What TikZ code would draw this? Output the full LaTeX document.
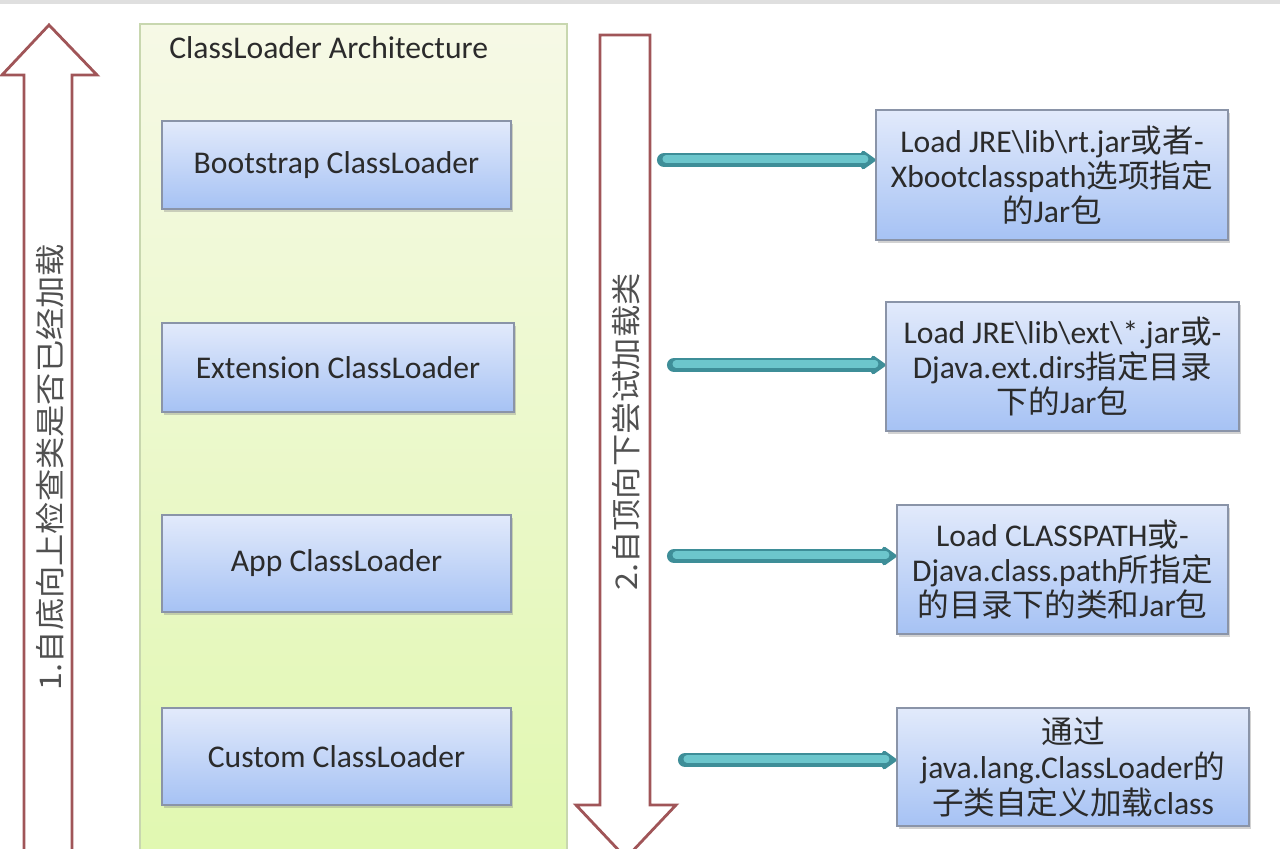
\documentclass[tikz,border=0pt]{standalone}
\usepackage{fontspec}
\setmainfont{Carlito}
\newfontfamily\cjk{Noto Sans CJK SC}
\usetikzlibrary{shadows,arrows.meta,calc}
\definecolor{arrowred}{HTML}{A05558}
\definecolor{txt}{HTML}{2B2B2B}
\definecolor{teal1}{HTML}{6CC6CC}
\definecolor{teal2}{HTML}{3E8E98}
\definecolor{boxline}{HTML}{8A94A8}
\tikzset{
  loader/.style={draw=boxline, line width=0.7pt, top color={rgb,255:red,226;green,234;blue,251}, bottom color={rgb,255:red,166;green,194;blue,244},
    drop shadow={shadow xshift=1pt, shadow yshift=-1.5pt, opacity=0.35}, text=txt, font=\fontsize{18}{20}\selectfont, align=center, inner sep=0pt},
  infobox/.style={loader, font=\fontsize{18}{20}\selectfont},
  bigarrow/.style={draw=arrowred, line width=1.6pt, fill=white, line join=miter},
  vtext/.style={text={rgb,255:red,80;green,80;blue,80}, font=\cjk\fontsize{17}{20}\selectfont, rotate=90, xscale=1.08},
  tealdark/.style={draw=teal2, line width=8pt, line cap=round, -{Triangle[length=9pt,width=12pt,round]}},
  teallight/.style={draw=teal1, line width=4pt, line cap=round, shorten >=6pt},
}
\begin{document}
\begin{tikzpicture}[x=0.02cm,y=-0.02cm]
\useasboundingbox (0,0) rectangle (1280,848);
\fill[white] (0,0) rectangle (1280,848);
\draw[gray!25, line width=2pt] (0,2) -- (1280,2);
% container
\path[draw={rgb,255:red,200;green,215;blue,175}, line width=0.8pt, top color={rgb,255:red,246;green,249;blue,230}, bottom color={rgb,255:red,224;green,248;blue,175}]
  (140,24) rectangle (567,880);
\node[anchor=west, text=txt, font=\fontsize{18}{20}\selectfont, inner sep=0pt] (title) at (169,48) {ClassLoader Architecture};
% left up arrow
\draw[bigarrow] (24,870) -- (24,75) -- (2,75) -- (49,25) -- (97,75) -- (72,75) -- (72,870);
\node[vtext] (up) at (50,467) {1.自底向上检查类是否已经加载};
% down arrow
\draw[bigarrow] (600,35) -- (650,35) -- (650,805) -- (676,805) -- (626,858) -- (576,805) -- (600,805) -- cycle;
\node[vtext] (down) at (626,432) {2.自顶向下尝试加载类};
% loaders
\node[loader, minimum width=6.98cm, minimum height=1.76cm] (boot) at (336.5,165) {Bootstrap ClassLoader};
\node[loader, minimum width=7.04cm, minimum height=1.78cm] (ext) at (338,367.5) {Extension ClassLoader};
\node[loader, minimum width=6.98cm, minimum height=1.94cm] (app) at (336.5,563.5) {App ClassLoader};
\node[loader, minimum width=6.98cm, minimum height=1.94cm] (cust) at (336.5,756.5) {Custom ClassLoader};
% info boxes
\node[infobox, minimum width=7.04cm, minimum height=2.6cm] (r1) at (1052,175) {Load JRE\textbackslash lib\textbackslash rt.jar{\cjk 或者}-\\Xbootclasspath{\cjk 选项指定}\\{\cjk 的}Jar{\cjk 包}};
\node[infobox, minimum width=7.06cm, minimum height=2.58cm] (r2) at (1062.5,366.5) {Load JRE\textbackslash lib\textbackslash ext\textbackslash *.jar{\cjk 或}-\\Djava.ext.dirs{\cjk 指定目录}\\{\cjk 下的}Jar{\cjk 包}};
\node[infobox, minimum width=6.62cm, minimum height=2.58cm] (r3) at (1062.5,569.5) {Load CLASSPATH{\cjk 或}-\\Djava.class.path{\cjk 所指定}\\{\cjk 的目录下的类和}Jar{\cjk 包}};
\node[infobox, minimum width=7.04cm, minimum height=2.36cm] (r4) at (1073,767) {{\cjk 通过}\\java.lang.ClassLoader{\cjk 的}\\{\cjk 子类自定义加载}class};
% connectors
\coordinate (s1) at (664,160);
\coordinate (s2) at (674,365);
\coordinate (s3) at (674,556);
\coordinate (s4) at (685,760);
\foreach \s/\r in {s1/r1,s2/r2,s3/r3,s4/r4}{
  \draw[tealdark] (\s) -- (\s -| \r.west);
  \draw[teallight] ($(\s)+(2,-1)$) -- ($(\s -| \r.west)+(0,-1)$);
}
\end{tikzpicture}
\end{document}
